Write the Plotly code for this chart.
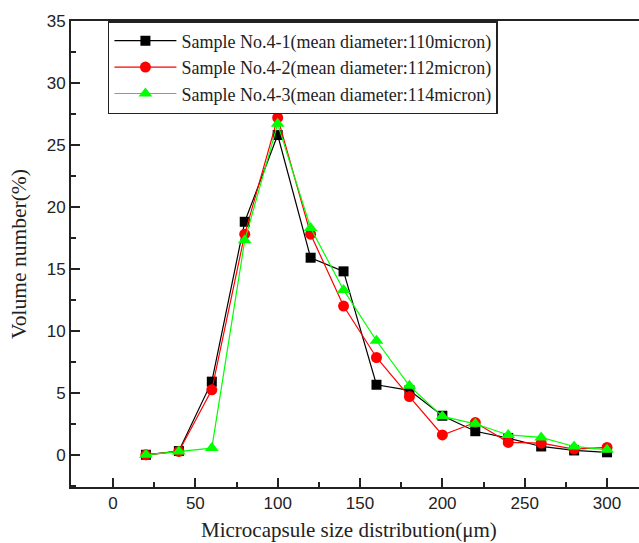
import plotly.graph_objects as go

# Particle size classes (µm)
sizes = [20, 40, 60, 80, 100, 120, 140, 160, 180, 200, 220, 240, 260, 280, 300]

# Volume fraction (%) per size class for each sample
sample_4_1 = [0.0, 0.3, 5.9, 18.8, 25.8, 15.9, 14.8, 5.65, 5.2, 3.15, 1.9, 1.35, 0.67, 0.35, 0.2]
sample_4_2 = [0.0, 0.27, 5.24, 17.8, 27.2, 17.8, 12.0, 7.85, 4.7, 1.6, 2.6, 1.0, 0.94, 0.46, 0.59]
sample_4_3 = [0.0, 0.27, 0.54, 17.3, 26.7, 18.3, 13.3, 9.2, 5.56, 3.1, 2.5, 1.6, 1.4, 0.67, 0.4]

series_names = [
    "Sample No.4-1(mean diameter:110micron)",
    "Sample No.4-2(mean diameter:112micron)",
    "Sample No.4-3(mean diameter:114micron)",
]
colors = ["#000000", "#ff0000", "#00ff00"]
symbols = ["square", "circle", "triangle-up"]
marker_sizes = [10, 11, 12]

fig = go.Figure()
for name, ys, c, s, ms in zip(series_names, [sample_4_1, sample_4_2, sample_4_3],
                              colors, symbols, marker_sizes):
    fig.add_trace(go.Scatter(
        x=sizes, y=ys, name=name, mode="lines+markers",
        line=dict(color=c, width=1.2),
        marker=dict(symbol=s, size=ms, color=c, line=dict(width=0)),
    ))

axis_common = dict(
    showgrid=False, zeroline=False, showline=True, linecolor="#222222", linewidth=2,
    ticks="inside", ticklen=9, tickwidth=2, tickcolor="#222222",
    tickfont=dict(family="Liberation Sans, Arial, sans-serif", size=17, color="#222222"),
)

fig.update_xaxes(
    range=[-25.5, 319.4], tickmode="array", tickvals=[0, 50, 100, 150, 200, 250, 300],
    mirror=True,
    minor=dict(ticks="inside", ticklen=5, tickwidth=2, tickcolor="#222222", dtick=25, tick0=0),
    **axis_common,
)
fig.update_yaxes(
    range=[-2.6, 35], tickmode="array", tickvals=[0, 5, 10, 15, 20, 25, 30, 35],
    minor=dict(ticks="inside", ticklen=5, tickwidth=2, tickcolor="#222222", dtick=2.5, tick0=0),
    title=dict(text="Volume number(%)",
               font=dict(family="Liberation Serif, Times New Roman, serif", size=21.5, color="#222222"),
               standoff=14),
    **axis_common,
)

fig.add_annotation(
    text="Microcapsule size distribution(μm)", xref="paper", yref="paper",
    x=0.489, y=0, yshift=-29, yanchor="top", showarrow=False,
    font=dict(family="Liberation Serif, Times New Roman, serif", size=21, color="#222222"),
)

fig.update_layout(
    width=639, height=543,
    margin=dict(l=71, r=0, t=21, b=56),
    paper_bgcolor="white", plot_bgcolor="white",
    legend=dict(
        x=0.065, y=1, xanchor="left", yanchor="top",
        bordercolor="#222222", borderwidth=1.5, bgcolor="white",
        font=dict(family="Liberation Serif, Times New Roman, serif", size=18, color="#222222"),
        tracegroupgap=0, itemwidth=62,
    ),
    showlegend=True,
)

fig.write_html("out.html")
